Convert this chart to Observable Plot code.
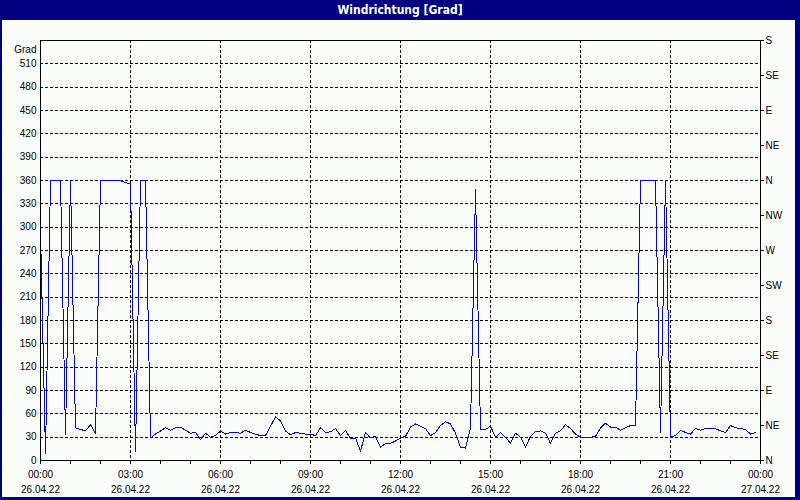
<!DOCTYPE html>
<html>
<head>
<meta charset="utf-8">
<script src="https://cdn.jsdelivr.net/npm/d3@7"></script>
<script src="https://cdn.jsdelivr.net/npm/@observablehq/plot@0.6"></script>
<style>
  html, body { margin: 0; padding: 0; background: #fafdfa; }
  #wrap { position: relative; width: 800px; height: 500px; overflow: hidden; background: #fafdfa; }
  #title { position: absolute; left: 0; top: 0; width: 800px; height: 20px; background: #000080; color: #fff;
           font: bold 12px "Liberation Sans Narrow", "DejaVu Sans Condensed", "DejaVu Sans", sans-serif; font-stretch: condensed;
           text-align: center; line-height: 20px; }
  #chart { position: absolute; left: 0; top: 20px; }
  .bd { position: absolute; background: #000080; }
</style>
</head>
<body>
<div id="wrap">
  <div id="title">Windrichtung [Grad]</div>
  <div id="chart"></div>
  <div class="bd" style="left:0;top:20px;width:2px;height:480px"></div>
  <div class="bd" style="right:0;top:20px;width:5px;height:480px"></div>
  <div class="bd" style="left:0;bottom:0;width:800px;height:3px"></div>
</div>
<script>
// Wind direction (degrees), one reading every 10 minutes, 26.04.22 00:00 – 23:50
const direction = [
  295, 9, 360, 360, 360, 33, 360, 42, 40, 38, 46, 35,
  360, 360, 360, 360, 360, 357, 356, 11, 360, 360, 29, 34,
  38, 42, 39, 42, 43, 39, 35, 36, 27, 35, 30, 32,
  38, 34, 36, 36, 35, 39, 36, 34, 32, 32, 44, 56,
  51, 38, 33, 36, 35, 34, 34, 32, 42, 36, 37, 41,
  32, 39, 28, 29, 12, 36, 29, 31, 17, 22, 22, 25,
  29, 31, 43, 47, 44, 41, 32, 36, 45, 50, 47, 35,
  17, 16, 42, 348, 40, 40, 44, 30, 36, 30, 22, 35,
  30, 17, 31, 37, 38, 35, 22, 35, 38, 46, 41, 34,
  30, 30, 30, 31, 42, 48, 43, 43, 39, 42, 45, 45,
  360, 360, 360, 360, 36, 360, 30, 32, 39, 36, 34, 41,
  39, 41, 41, 41, 38, 36, 45, 42, 41, 40, 34, 36
];
const timeLabels = ["00:00","03:00","06:00","09:00","12:00","15:00","18:00","21:00","00:00"];
const dateLabels = ["26.04.22","26.04.22","26.04.22","26.04.22","26.04.22","26.04.22","26.04.22","26.04.22","27.04.22"];
const gradTicks = [0,30,60,90,120,150,180,210,240,270,300,330,360,390,420,450,480,510];
const compassTicks = [0,45,90,135,180,225,270,315,360,405,450,495,540];
const compassLabels = ["N","NE","E","SE","S","SW","W","NW","N","NE","E","SE","S"];

const start = Date.UTC(2022, 3, 26, 0, 0);
const H = 3600e3;
const data = direction.map((v, i) => ({t: new Date(start + i * 600e3), v}));
const majorTicks = timeLabels.map((_, i) => new Date(start + i * 3 * H));
const hourTicks = d3.range(25).map(i => new Date(start + i * H));
const idx = d => Math.round((d - start) / (3 * H));

const chart = Plot.plot({
  width: 800,
  height: 480,
  marginLeft: 40,
  marginRight: 40,
  marginTop: 20,
  marginBottom: 40,
  style: {fontFamily: "Liberation Sans, Arial, sans-serif", fontSize: "10px", background: "transparent", color: "black"},
  x: {type: "utc", domain: [new Date(start), new Date(start + 24 * H)]},
  y: {domain: [0, 540]},
  marks: [
    Plot.gridY(gradTicks.slice(1), {stroke: "black", strokeOpacity: 1, strokeDasharray: "3,2", shapeRendering: "crispEdges"}),
    Plot.gridX(majorTicks.slice(1, -1), {stroke: "black", strokeOpacity: 1, strokeDasharray: "3,2", shapeRendering: "crispEdges"}),
    Plot.line(data, {x: "t", y: "v", stroke: "#0000ff", strokeWidth: 1, shapeRendering: "crispEdges"}),
    Plot.frame({stroke: "black", shapeRendering: "crispEdges"}),
    Plot.axisY(gradTicks, {anchor: "left", tickSize: 0, tickPadding: 4, label: null}),
    Plot.axisY(compassTicks, {anchor: "right", tickSize: 3, tickPadding: 2, label: null,
      tickFormat: d => compassLabels[compassTicks.indexOf(d)]}),
    Plot.axisX(hourTicks, {anchor: "bottom", tickSize: 4, tickFormat: () => "", label: null}),
    Plot.axisX(majorTicks, {anchor: "bottom", tickSize: 4, tickPadding: 6, label: null,
      tickFormat: d => timeLabels[idx(d)]}),
    Plot.axisX(majorTicks, {anchor: "bottom", tickSize: 0, tickPadding: 25, label: null,
      tickFormat: d => dateLabels[idx(d)]}),
    Plot.text(["Grad"], {frameAnchor: "top-left", textAnchor: "end", dx: -4, dy: 5})
  ]
});
document.getElementById("chart").appendChild(chart);
</script>
</body>
</html>
